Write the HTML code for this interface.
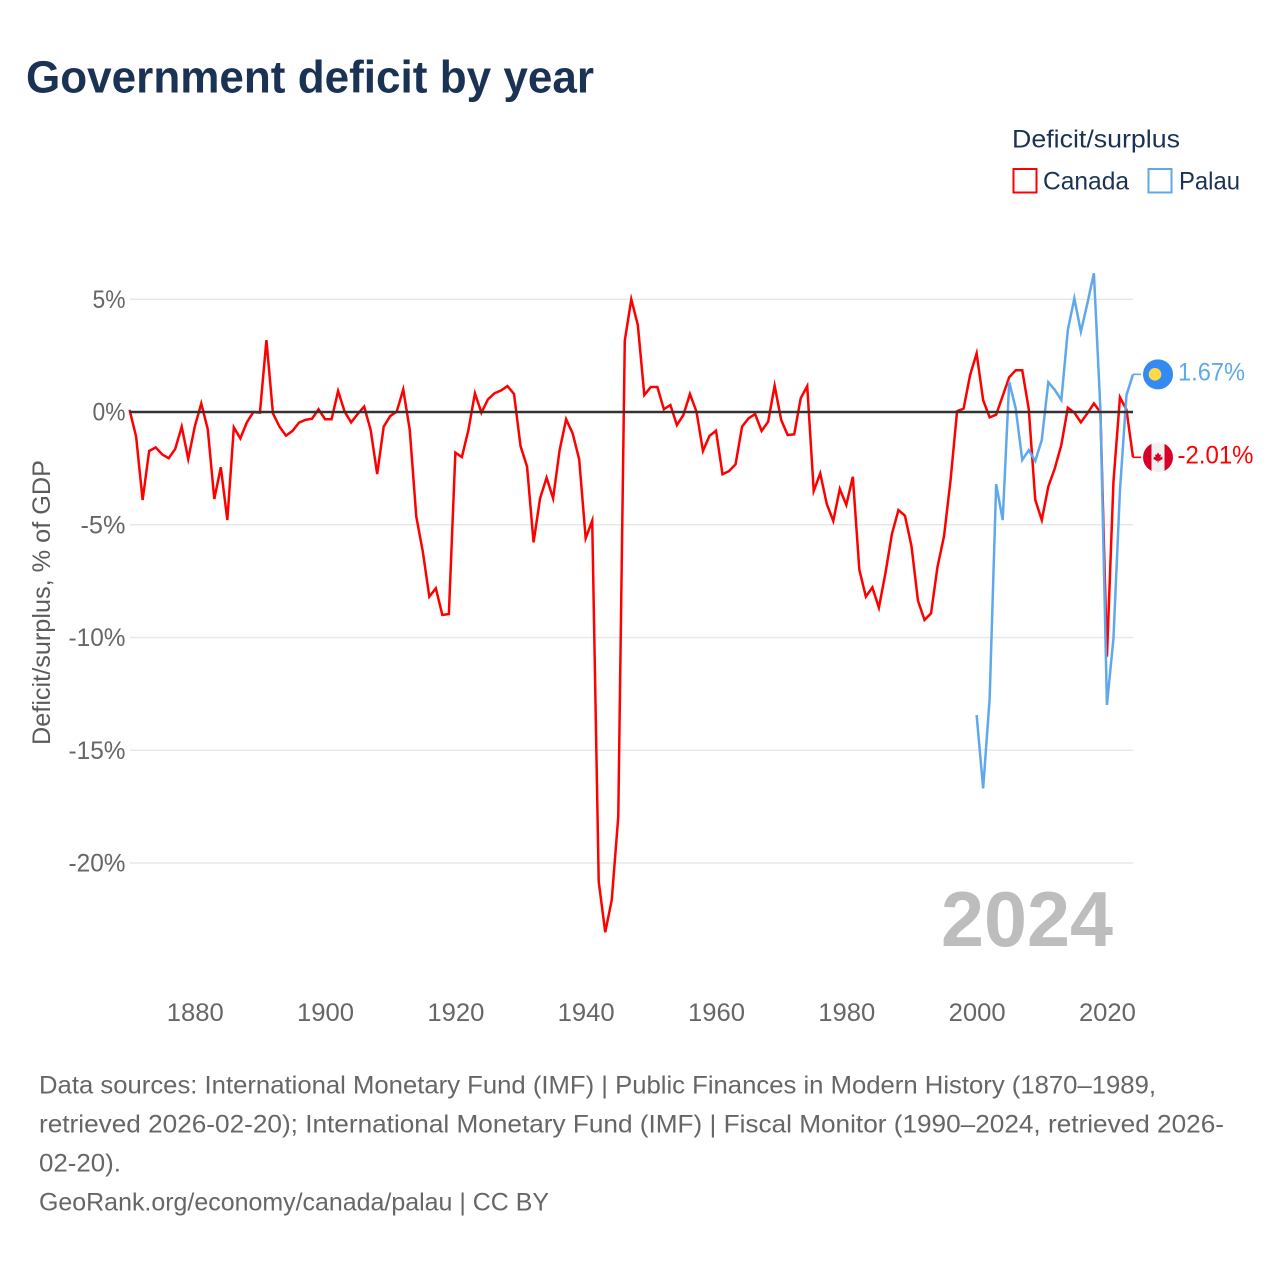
<!DOCTYPE html>
<html lang="en">
<head>
<meta charset="utf-8">
<title>Government deficit by year</title>
<style>
html,body{margin:0;padding:0;background:#fff;}
svg{display:block;font-family:"Liberation Sans",sans-serif;}
</style>
</head>
<body>
<svg id="chart" xmlns="http://www.w3.org/2000/svg" width="1280" height="1280" viewBox="0 0 1280 1280">
  <rect x="0" y="0" width="1280" height="1280" fill="#ffffff"/>
  <text x="26" y="92.5" font-size="45" font-weight="700" fill="#1a3253" textLength="568" lengthAdjust="spacingAndGlyphs">Government deficit by year</text>

  <g>
    <text x="1012" y="147.5" font-size="25" fill="#1a3253" textLength="168" lengthAdjust="spacingAndGlyphs">Deficit/surplus</text>
    <g>
      <rect x="1013.5" y="169" width="23" height="23.5" fill="none" stroke="#ff0000" stroke-width="2"/>
      <text x="1043" y="189.5" font-size="25" fill="#1a3253" textLength="86" lengthAdjust="spacingAndGlyphs">Canada</text>
    </g>
    <g>
      <rect x="1148.5" y="169" width="23" height="23.5" fill="none" stroke="#5fa8ee" stroke-width="2"/>
      <text x="1179" y="189.5" font-size="25" fill="#1a3253" textLength="61" lengthAdjust="spacingAndGlyphs">Palau</text>
    </g>
  </g>

  <text transform="translate(50,745) rotate(-90)" x="0" y="0" font-size="25" fill="#5b5b5b" textLength="285" lengthAdjust="spacingAndGlyphs">Deficit/surplus, % of GDP</text>

  <g id="grid"></g>
  <g id="yTicks"></g>
  <g id="xTicks"></g>

  <text x="941" y="946" font-size="78" font-weight="700" fill="#bdbdbd" textLength="172" lengthAdjust="spacingAndGlyphs">2024</text>

  <g id="series"></g>
  <g id="zero"></g>
  <g id="ends"></g>

  <g font-size="25" fill="#666666">
    <text x="39" y="1093.5" textLength="1117" lengthAdjust="spacingAndGlyphs">Data sources: International Monetary Fund (IMF) | Public Finances in Modern History (1870–1989,</text>
    <text x="39" y="1132.5" textLength="1185" lengthAdjust="spacingAndGlyphs">retrieved 2026-02-20); International Monetary Fund (IMF) | Fiscal Monitor (1990–2024, retrieved 2026-</text>
    <text x="39" y="1171.5" textLength="82" lengthAdjust="spacingAndGlyphs">02-20).</text>
    <text x="39" y="1210.5" textLength="510" lengthAdjust="spacingAndGlyphs">GeoRank.org/economy/canada/palau | CC BY</text>
  </g>
</svg>
<script>
const canadaStartYear = 1870;
const palauStartYear = 2000;
const canadaValues = [
  0.09,-1.09,-3.9,-1.73,-1.57,-1.88,-2.05,-1.64,-0.65,-2.08,
  -0.65,0.38,-0.77,-3.86,-2.45,-4.79,-0.68,-1.17,-0.46,0,
  -0.03,3.19,-0.06,-0.65,-1.05,-0.84,-0.47,-0.35,-0.3,0.12,
  -0.32,-0.32,0.93,0.02,-0.46,-0.09,0.24,-0.8,-2.75,-0.65,
  -0.18,0.02,1.0,-0.8,-4.64,-6.19,-8.19,-7.82,-9.0,-8.96,
  -1.8,-2.0,-0.8,0.83,-0.03,0.56,0.83,0.95,1.15,0.8,
  -1.51,-2.42,-5.78,-3.83,-2.91,-3.83,-1.69,-0.32,-0.95,-2.1,
  -5.6,-4.82,-20.83,-23.07,-21.64,-17.95,3.16,5.0,3.86,0.75,
  1.11,1.11,0.12,0.31,-0.58,-0.13,0.8,0.02,-1.73,-1.06,
  -0.83,-2.76,-2.62,-2.32,-0.65,-0.28,-0.09,-0.84,-0.43,1.17,
  -0.35,-1.02,-0.99,0.61,1.15,-3.5,-2.72,-4.08,-4.83,-3.41,
  -4.12,-2.87,-7.0,-8.19,-7.78,-8.68,-7.15,-5.41,-4.35,-4.6,
  -5.94,-8.37,-9.22,-8.93,-6.86,-5.5,-3.02,0.04,0.15,1.64,
  2.6,0.53,-0.24,-0.12,0.71,1.54,1.85,1.85,0.13,-3.9,
  -4.79,-3.31,-2.5,-1.46,0.19,-0.03,-0.46,-0.06,0.38,-0.01,
  -10.85,-3.1,0.65,0.1,-2.01
];
const palauValues = [
  -13.44,-16.69,-12.7,-3.2,-4.79,1.34,0.16,-2.13,-1.69,-2.17,
  -1.24,1.32,0.98,0.53,3.64,5.04,3.56,4.82,6.15,0.09,
  -12.99,-10.04,-3.46,0.75,1.67
];
const yTickValues = [5,0,-5,-10,-15,-20];
const yTickLabels = ["5%","0%","-5%","-10%","-15%","-20%"];
const xTickValues = [1880,1900,1920,1940,1960,1980,2000,2020];
const xTickLabels = ["1880","1900","1920","1940","1960","1980","2000","2020"];

const NS = "http://www.w3.org/2000/svg";
const PLOT_LEFT = 129.6, PLOT_RIGHT = 1133, YEAR_MIN = 1870, YEAR_MAX = 2024;
function xScale(year){ return PLOT_LEFT + (year - YEAR_MIN) * (PLOT_RIGHT - PLOT_LEFT) / (YEAR_MAX - YEAR_MIN); }
function yScale(v){ return 412 - 22.55 * v; }
function make(tag, attrs, parent){
  const el = document.createElementNS(NS, tag);
  for (const k in attrs) el.setAttribute(k, attrs[k]);
  parent.appendChild(el);
  return el;
}
const grid = document.getElementById('grid');
const yTicksG = document.getElementById('yTicks');
const xTicksG = document.getElementById('xTicks');
const seriesG = document.getElementById('series');
const zeroG = document.getElementById('zero');
const endsG = document.getElementById('ends');

yTickValues.forEach(function(v, i){
  if (v !== 0) {
    const line = make('line', {x1:130, x2:PLOT_RIGHT, y1:yScale(v), y2:yScale(v), stroke:'#e8e8e8', 'stroke-width':1.5}, grid);
    
    
  }
  const label = yTickLabels[i];
  const w = label.length === 2 ? 33 : (label.length === 3 ? 45 : 57);
  const t = make('text', {x:125.5 - w, y:yScale(v) + 8.5, 'font-size':25, fill:'#666666', textLength:w, lengthAdjust:'spacingAndGlyphs'}, yTicksG);
  t.textContent = label;
  
  
});

xTickValues.forEach(function(year, i){
  const t = make('text', {x:xScale(year) - 28, y:1021, 'font-size':25, fill:'#666666', textLength:57, lengthAdjust:'spacingAndGlyphs'}, xTicksG);
  t.textContent = xTickLabels[i];
  
  
});

function pathFor(values, startYear){
  return values.map(function(v, i){
    return (i ? 'L' : 'M') + xScale(startYear + i).toFixed(2) + ' ' + yScale(v).toFixed(2);
  }).join(' ');
}
const canadaLine = make('path', {d:pathFor(canadaValues, canadaStartYear), fill:'none', stroke:'#ff0000', 'stroke-width':2.5, 'stroke-linejoin':'miter', 'stroke-miterlimit':6}, seriesG);


const palauLine = make('path', {d:pathFor(palauValues, palauStartYear), fill:'none', stroke:'#5fa8ee', 'stroke-width':2.5, 'stroke-linejoin':'miter', 'stroke-miterlimit':6}, seriesG);



const zeroLine = make('line', {x1:130, x2:PLOT_RIGHT, y1:yScale(0), y2:yScale(0), stroke:'#333333', 'stroke-width':2.5}, zeroG);



// Palau end marker
const palauLast = palauValues[palauValues.length - 1];
const palauY = yScale(palauLast);
const palauLead = make('line', {x1:PLOT_RIGHT, x2:1141, y1:palauY, y2:palauY, stroke:'#5fa8ee', 'stroke-width':1.6}, endsG);


const palauFlag = make('g', {}, endsG);


make('circle', {cx:1158, cy:palauY, r:15, fill:'#338af3'}, palauFlag);
make('circle', {cx:1155, cy:palauY, r:6.3, fill:'#ffda44'}, palauFlag);
const palauText = make('text', {x:1178, y:palauY + 6, 'font-size':25, fill:'#5fa8ee', textLength:67, lengthAdjust:'spacingAndGlyphs'}, endsG);
palauText.textContent = palauLast.toFixed(2) + '%';



// Canada end marker
const canadaLast = canadaValues[canadaValues.length - 1];
const canadaY = yScale(canadaLast);
const canadaLead = make('line', {x1:PLOT_RIGHT, x2:1141, y1:canadaY, y2:canadaY, stroke:'#ff0000', 'stroke-width':1.6}, endsG);


const canadaFlag = make('g', {transform:'translate(1158,' + canadaY + ')'}, endsG);


make('circle', {cx:0, cy:0, r:15, fill:'#f0f0f0'}, canadaFlag);
make('path', {d:'M-6.5 -13.5 A15 15 0 0 0 -6.5 13.5 Z', fill:'#d80027'}, canadaFlag);
make('path', {d:'M6.5 -13.5 A15 15 0 0 1 6.5 13.5 Z', fill:'#d80027'}, canadaFlag);
make('path', {d:'M0 -5 L1.5 -2.5 L3 -3 L2.4 0 L4.5 -0.8 L4 0.8 L5 1.4 L1 3.8 L0.5 3 L0.5 5 L-0.5 5 L-0.5 3 L-1 3.8 L-5 1.4 L-4 0.8 L-4.5 -0.8 L-2.4 0 L-3 -3 L-1.5 -2.5 Z', fill:'#d80027'}, canadaFlag);
const canadaText = make('text', {x:1177.5, y:canadaY + 6.2, 'font-size':25, fill:'#ff0000', textLength:76, lengthAdjust:'spacingAndGlyphs'}, endsG);
canadaText.textContent = canadaLast.toFixed(2) + '%';


</script>
</body>
</html>
